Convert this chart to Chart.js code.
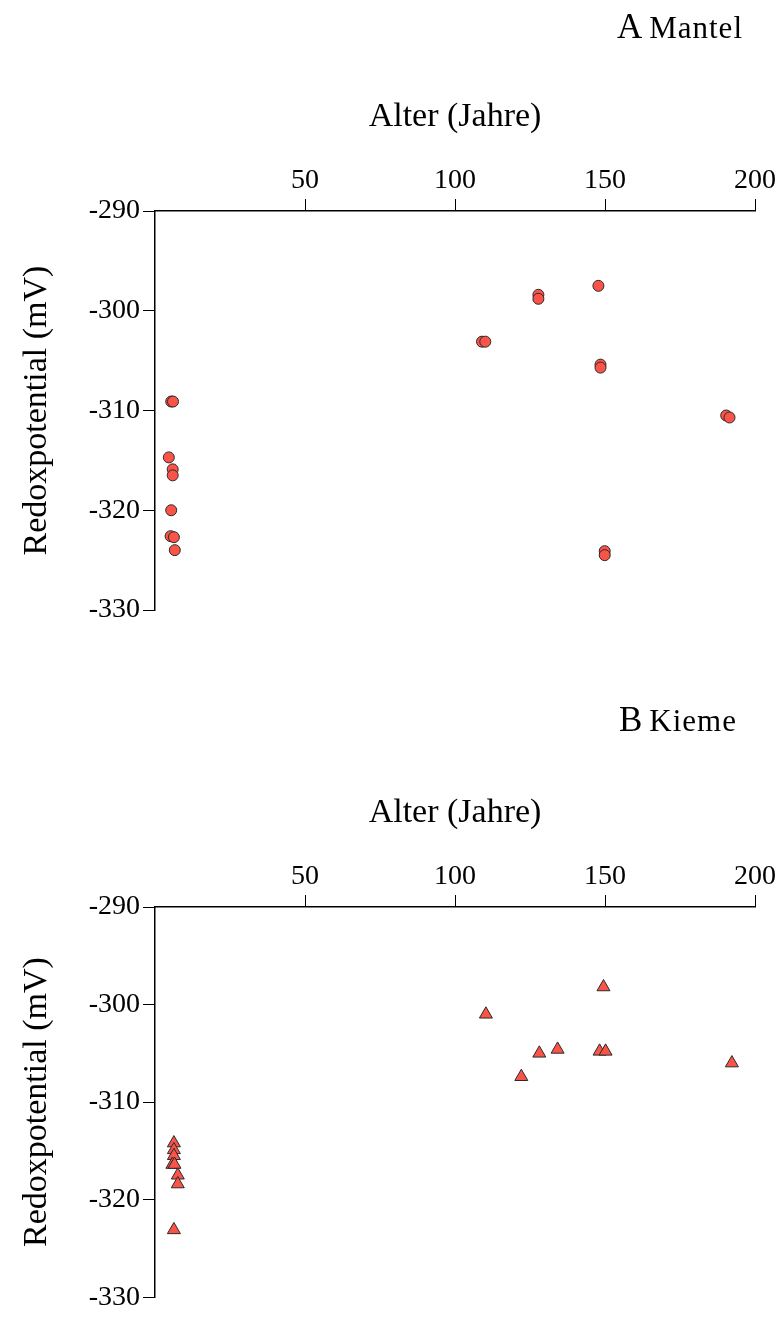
<!DOCTYPE html>
<html><head><meta charset="utf-8">
<script src="https://cdn.jsdelivr.net/npm/chart.js@4.4.1/dist/chart.umd.min.js"></script>
<style>
html,body{margin:0;padding:0;background:#fff;width:780px;height:1317px;overflow:hidden;position:relative;}
.panel{position:absolute;left:0;width:780px;}
.ptitle{position:absolute;font-family:"Liberation Serif","Times New Roman",serif;color:#000;white-space:nowrap;line-height:1;z-index:2;font-size:28px;}
.big{font-size:35px}.small{font-size:31px;letter-spacing:1px}
</style></head><body>
<div class="ptitle" style="right:37px;top:9px"><span class="big">A</span> <span class="small">Mantel</span></div>
<div class="ptitle" style="right:43px;top:702px"><span class="big">B</span> <span class="small">Kieme</span></div>
<div class="panel" style="top:0;height:696px"><canvas id="c1" width="780" height="696"></canvas></div>
<div class="panel" style="top:696px;height:621px"><canvas id="c2" width="780" height="621"></canvas></div>
<script>
// ---- data ----
const xTitle = "Alter (Jahre)";
const yTitle = "Redoxpotential (mV)";
const xTicks = [50, 100, 150, 200];
const yTicks = [-330, -320, -310, -300, -290];

// A Mantel (circles)
const mantelAge   = [5.4, 6.0, 4.6, 5.9, 5.9, 5.4, 5.2, 6.3, 6.6, 147.8, 127.8, 127.8, 109.0, 110.1, 148.5, 148.5, 190.4, 191.5, 149.9, 149.9];
const mantelRedox = [-309.1, -309.1, -314.7, -315.9, -316.5, -320.0, -322.6, -322.7, -324.0, -297.5, -298.4, -298.8, -303.1, -303.1, -305.4, -305.7, -310.5, -310.7, -324.1, -324.5];

// B Kieme (triangles)
const kiemeAge   = [6.3, 6.3, 6.3, 5.8, 6.5, 7.6, 7.6, 6.3, 149.5, 110.3, 128.1, 134.2, 148.2, 150.2, 192.3, 122.1];
const kiemeRedox = [-314.2, -314.9, -315.5, -316.4, -316.4, -317.5, -318.4, -323.1, -298.2, -301.0, -305.0, -304.6, -304.8, -304.8, -306.0, -307.4];

const FONT = "'Liberation Serif', 'Times New Roman', serif";
const FILL = '#FA5448';
const EDGE = '#2a2a2a';

function makeChart(id, ages, values, style, radius, padBottom) {
  return new Chart(document.getElementById(id), {
    type: 'scatter',
    data: { datasets: [{
      data: ages.map((a, i) => ({ x: a, y: values[i] })),
      pointStyle: style, pointRadius: radius, pointHoverRadius: radius,
      backgroundColor: FILL, borderColor: EDGE, borderWidth: 1
    }]},
    options: {
      responsive: false, animation: false, events: [],
      layout: { padding: { top: 90, left: 0, right: 25, bottom: padBottom } },
      plugins: { legend: { display: false }, tooltip: { enabled: false } },
      scales: {
        x: {
          type: 'linear', position: 'top', min: 0, max: 200,
          afterBuildTicks: s => { s.ticks = xTicks.map(v => ({ value: v })); },
          afterFit: s => { s.height = 121; },
          grid: { drawOnChartArea: false, drawTicks: true, tickLength: 12, color: '#000', lineWidth: 1 },
          border: { display: true, color: '#000', width: 1.5 },
          ticks: { font: { family: FONT, size: 28 }, color: '#000', padding: 2, maxRotation: 0, callback: v => String(v) },
          title: { display: true, text: xTitle, font: { family: FONT, size: 34 }, color: '#000', padding: { top: 7, bottom: 0 } }
        },
        y: {
          type: 'linear', position: 'left', min: -330, max: -290,
          afterBuildTicks: s => { s.ticks = yTicks.map(v => ({ value: v })); },
          afterFit: s => { s.width = 155; },
          grid: { drawOnChartArea: false, drawTicks: true, tickLength: 12, color: '#000', lineWidth: 1 },
          border: { display: true, color: '#000', width: 1.5 },
          ticks: { font: { family: FONT, size: 28 }, color: '#000', padding: 3, callback: v => String(v) },
          title: { display: true, text: yTitle, font: { family: FONT, size: 34 }, color: '#000', padding: { top: 17, bottom: 0 } }
        }
      }
    }
  });
}
makeChart('c1', mantelAge, mantelRedox, 'circle', 5.5, 86);
makeChart('c2', kiemeAge, kiemeRedox, 'triangle', 7.5, 12);
</script>
</body></html>
